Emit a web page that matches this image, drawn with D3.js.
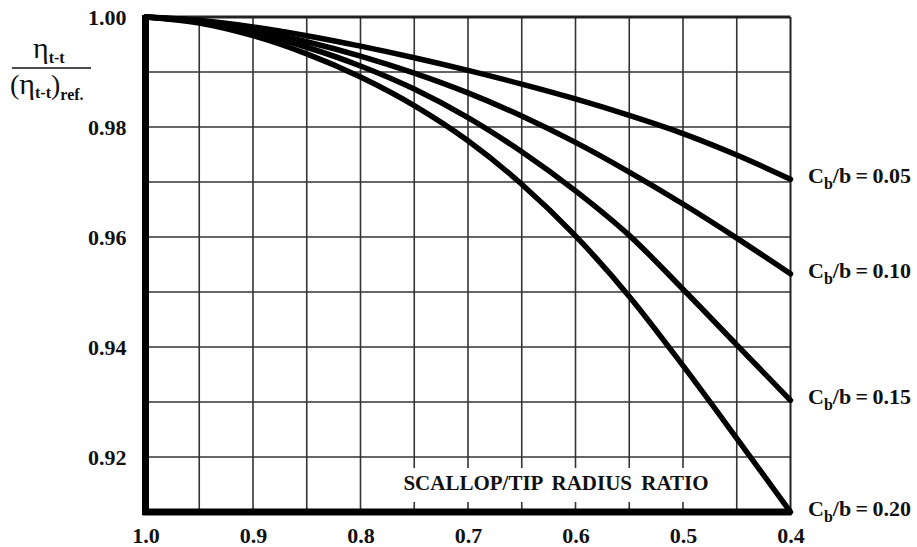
<!DOCTYPE html>
<html>
<head>
<meta charset="utf-8">
<script src="https://cdn.jsdelivr.net/npm/d3@7"></script>
<style>
  body { margin: 0; background: #fff; }
  svg { display: block; }
  .tick text { font-family: "Liberation Serif", serif; font-weight: bold; font-size: 22px; fill: #111; }
  .grid line { stroke: #333; stroke-width: 1.6; }
  .curve { fill: none; stroke: #000; stroke-width: 5.5; stroke-linecap: round; }
  .lbl { font-family: "Liberation Serif", serif; font-weight: bold; fill: #111; }
</style>
</head>
<body>
<svg id="chart" width="917" height="547"></svg>
<script>
// scallop / tip radius ratio (x) and efficiency ratio per Cb/b
const ratio = [1.0, 0.95, 0.9, 0.85, 0.8, 0.75, 0.7, 0.65, 0.6, 0.55, 0.5, 0.45, 0.4];
const cb05 = [1.0, 0.9994, 0.9982, 0.9966, 0.9947, 0.9926, 0.9903, 0.9878, 0.9851, 0.9821, 0.9788, 0.9749, 0.9705];
const cb10 = [1.0, 0.9992, 0.9976, 0.9955, 0.9929, 0.9898, 0.9862, 0.9820, 0.9772, 0.9718, 0.9660, 0.9598, 0.9533];
const cb15 = [1.0, 0.9991, 0.9972, 0.9945, 0.9911, 0.9869, 0.9817, 0.9755, 0.9684, 0.9603, 0.9505, 0.9404, 0.9303];
const cb20 = [1.0, 0.9989, 0.9966, 0.9933, 0.9891, 0.9839, 0.9775, 0.9696, 0.9602, 0.9492, 0.9366, 0.9234, 0.9100];

const seriesNames = ["0.05", "0.10", "0.15", "0.20"];
const seriesVals = [cb05, cb10, cb15, cb20];

const xTicks = [1.0, 0.9, 0.8, 0.7, 0.6, 0.5, 0.4];
const yTicks = [1.00, 0.98, 0.96, 0.94, 0.92];
const xGrid = [0.95, 0.9, 0.85, 0.8, 0.75, 0.7, 0.65, 0.6, 0.55, 0.5, 0.45];
const yGrid = [0.99, 0.98, 0.97, 0.96, 0.95, 0.94, 0.93, 0.92];

const svg = d3.select("#chart");

const xScale = d3.scaleLinear().domain([1.0, 0.4]).range([145.5, 790.5]);
const yScale = d3.scaleLinear().domain([0.91, 1.0]).range([512, 17]);

// grid
const grid = svg.append("g").attr("class", "grid");
grid.selectAll(".vx").data(xGrid).enter().append("line")
  .attr("x1", d => xScale(d)).attr("x2", d => xScale(d))
  .attr("y1", yScale(1.0)).attr("y2", yScale(0.91));
grid.selectAll(".hy").data(yGrid).enter().append("line")
  .attr("x1", xScale(1.0)).attr("x2", xScale(0.4))
  .attr("y1", d => yScale(d)).attr("y2", d => yScale(d));

// white patch behind the inner axis title
svg.append("rect")
  .attr("x", 396).attr("y", 468).attr("width", 320).attr("height", 34)
  .attr("fill", "#fff");

svg.append("text").attr("class", "lbl")
  .attr("x", 556).attr("y", 490)
  .attr("text-anchor", "middle")
  .style("font-size", "21px")
  .style("word-spacing", "4px")
  .text("SCALLOP/TIP RADIUS RATIO");

// frame
svg.append("line").attr("x1", xScale(1.0)).attr("x2", xScale(0.4))
  .attr("y1", yScale(1.0)).attr("y2", yScale(1.0))
  .attr("stroke", "#222").attr("stroke-width", 3);
svg.append("line").attr("x1", xScale(0.4)).attr("x2", xScale(0.4))
  .attr("y1", yScale(1.0)).attr("y2", yScale(0.91))
  .attr("stroke", "#222").attr("stroke-width", 2);
svg.append("line").attr("x1", xScale(1.0)).attr("x2", xScale(1.0))
  .attr("y1", yScale(1.0) - 2).attr("y2", yScale(0.91) + 3)
  .attr("stroke", "#000").attr("stroke-width", 7);
svg.append("line").attr("x1", xScale(1.0) - 3).attr("x2", xScale(0.4) + 1)
  .attr("y1", yScale(0.91)).attr("y2", yScale(0.91))
  .attr("stroke", "#000").attr("stroke-width", 7);

// curves
const line = d3.line()
  .x((d, i) => xScale(ratio[i]))
  .y(d => yScale(d))
  .curve(d3.curveMonotoneX);

svg.selectAll(".curve").data(seriesVals).enter().append("path")
  .attr("class", "curve")
  .attr("d", d => line(d));

// right-hand series labels
const lab = svg.selectAll(".slab").data(seriesVals).enter().append("text")
  .attr("class", "lbl")
  .attr("x", 808)
  .attr("y", d => yScale(d[d.length - 1]) + 4)
  .style("font-size", "22px");
lab.append("tspan").text("C");
lab.append("tspan").attr("dy", 6).style("font-size", "16px").text("b");
lab.append("tspan").attr("dy", -6).text((d, i) => "/b\u2009=\u20090." + seriesNames[i].slice(2));

// axes
const yAxis = d3.axisLeft(yScale).tickValues(yTicks).tickFormat(d3.format(".2f")).tickSize(0).tickPadding(19);
svg.append("g").attr("transform", "translate(" + xScale(1.0) + ",0)").call(yAxis)
  .call(g => g.select(".domain").remove());

const xAxis = d3.axisBottom(xScale).tickValues(xTicks).tickFormat(d3.format(".1f")).tickSize(0).tickPadding(15);
svg.append("g").attr("transform", "translate(0," + yScale(0.91) + ")").call(xAxis)
  .call(g => g.select(".domain").remove());

// y axis title as a fraction
const num = svg.append("text").attr("class", "lbl").attr("x", 33).attr("y", 58);
num.append("tspan").style("font-size", "30px").style("font-weight", "normal").text("\u03b7");
num.append("tspan").attr("dy", 5).style("font-size", "16px").text("t-t");

svg.append("line").attr("x1", 12).attr("x2", 91).attr("y1", 68).attr("y2", 68)
  .attr("stroke", "#111").attr("stroke-width", 1.5);

const den = svg.append("text").attr("class", "lbl").attr("x", 10).attr("y", 94);
den.append("tspan").style("font-size", "28px").style("font-weight", "normal").text("(");
den.append("tspan").style("font-size", "30px").style("font-weight", "normal").text("\u03b7");
den.append("tspan").attr("dy", 4).style("font-size", "16px").text("t-t");
den.append("tspan").attr("dy", -4).style("font-size", "28px").style("font-weight", "normal").text(")");
den.append("tspan").attr("dy", 6).style("font-size", "16px").text("ref.");
</script>
</body>
</html>
